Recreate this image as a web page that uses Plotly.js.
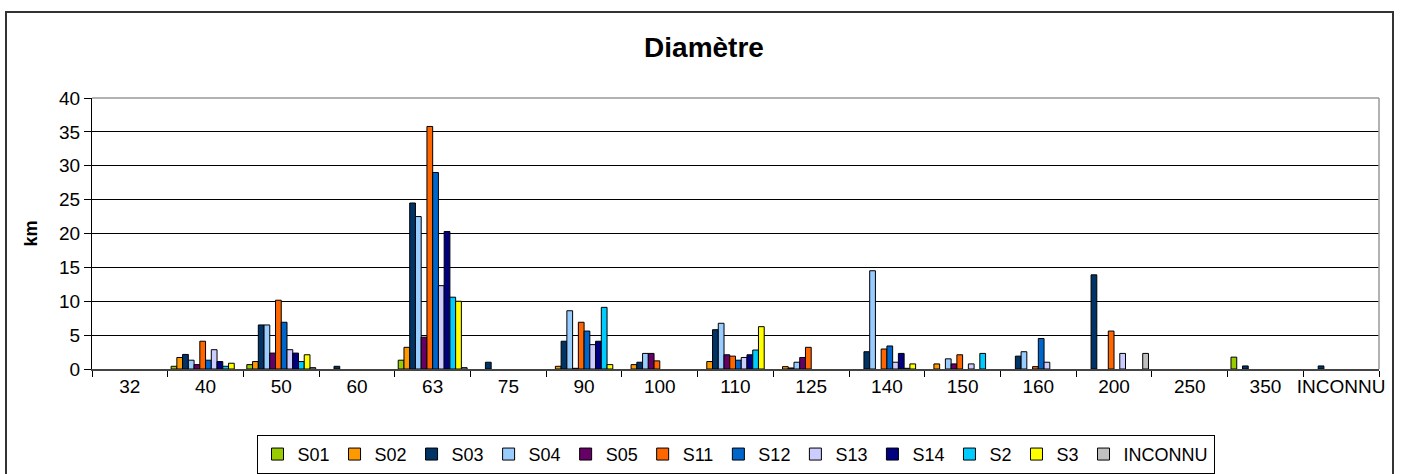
<!DOCTYPE html>
<html>
<head>
<meta charset="utf-8">
<script src="https://cdn.plot.ly/plotly-3.0.1.min.js"></script>
<style>
html,body{margin:0;padding:0;background:#fff;}
#wrap{position:relative;width:1408px;height:474px;}
#chart{width:1408px;height:474px;}
#frame{position:absolute;left:5px;top:11px;width:1389px;height:470px;border:2px solid #333;pointer-events:none;box-sizing:border-box;}
</style>
</head>
<body>
<div id="wrap"><div id="chart"></div><div id="frame"></div></div>
<script>
const categories = ['32','40','50','60','63','75','90','100','110','125','140','150','160','200','250','350','INCONNU'];
// null = no bar drawn for that category
const S01     = [null,0.4,0.65,null,1.3,null,null,null,null,null,null,null,null,null,null,1.75,null];
const S02     = [null,1.7,1.1,null,3.2,null,0.4,0.65,1.1,0.35,null,0.75,null,null,null,null,null];
const S03     = [null,2.15,6.5,0.4,24.5,1.0,4.1,1.0,5.8,0.15,2.55,null,1.9,13.9,null,0.45,0.45];
const S04     = [null,1.3,6.5,null,22.5,null,8.6,2.3,6.75,1.0,14.5,1.5,2.55,null,null,null,null];
const S05     = [null,0.65,2.35,null,4.7,null,0.1,2.3,2.1,1.7,null,0.75,null,null,null,null,null];
const S11     = [null,4.1,10.15,null,35.8,null,6.9,1.2,1.9,3.2,2.95,2.1,0.35,5.6,null,null,null];
const S12     = [null,1.3,6.9,null,29.0,null,5.6,null,1.3,null,3.4,null,4.5,null,null,null,null];
const S13     = [null,2.85,2.85,null,12.3,null,3.6,null,1.7,null,1.0,0.75,1.0,2.3,null,null,null];
const S14     = [null,1.1,2.35,null,20.3,null,4.1,null,2.1,null,2.3,null,null,null,null,null,null];
const S2      = [null,0.4,1.1,null,10.6,null,9.1,null,2.8,null,0.1,2.3,null,null,null,null,null];
const S3      = [null,0.85,2.1,null,10.0,null,0.65,null,6.25,null,0.75,null,null,null,null,null,null];
const INCONNU = [null,null,0.2,null,0.2,null,null,null,null,null,null,null,null,2.3,null,null,null];

const seriesNames = ['S01','S02','S03','S04','S05','S11','S12','S13','S14','S2','S3','INCONNU'];
const seriesData = [S01,S02,S03,S04,S05,S11,S12,S13,S14,S2,S3,INCONNU];
const colors = ['#99CC00','#FF9900','#003366','#99CCFF','#660066','#FF6600','#0066CC','#CCCCFF','#000080','#00CCFF','#FFFF00','#C0C0C0'];

const traces = seriesNames.map((n,i)=>({
  type:'bar', name:n, x:categories, y:seriesData[i],
  marker:{color:colors[i], line:{color:'#000', width:1}}
}));

const font = 'Liberation Sans, Arial, sans-serif';
const layout = {
  width:1408, height:474,
  margin:{l:91.5, r:28.5, t:97.5, b:105, pad:0, autoexpand:false},
  paper_bgcolor:'rgba(0,0,0,0)', plot_bgcolor:'#fff',
  font:{family:font, size:19, color:'#000'},
  title:{text:'<b>Diamètre</b>', x:0.5, xref:'container', y:0.9, yref:'container', yanchor:'middle', font:{family:font, size:28, color:'#000'}},
  barmode:'group', bargap:0.09, bargroupgap:0,
  showlegend:true,
  legend:{orientation:'h', x:0.5, xanchor:'center', y:-0.243, yanchor:'top',
    bordercolor:'#000', borderwidth:1, bgcolor:'#fff',
    font:{family:font, size:18, color:'#000'}, itemwidth:30, tracegroupgap:0,
    traceorder:'normal'},
  xaxis:{type:'category', tickson:'boundaries', ticks:'outside', ticklen:6, tickcolor:'#000',
    tickangle:0,
    showline:true, linecolor:'#444', linewidth:1.5, showgrid:false,
    tickfont:{family:font, size:19}, fixedrange:true},
  yaxis:{range:[0,40], dtick:5, ticks:'outside', ticklen:7, tickcolor:'#000',
    showline:true, linecolor:'#000', linewidth:1, showgrid:true, gridcolor:'#000', gridwidth:1,
    zeroline:false, tickfont:{family:font, size:19},
    title:{text:'<b>km</b>', font:{family:font, size:18}, standoff:16}, fixedrange:true},
  shapes:[
    {type:'line', xref:'paper', yref:'paper', x0:0, x1:1, y0:1, y1:1, line:{color:'#999', width:1.5}},
    {type:'line', xref:'paper', yref:'paper', x0:1, x1:1, y0:0, y1:1, line:{color:'#999', width:1.5}}
  ]
};
Plotly.newPlot('chart', traces, layout, {displayModeBar:false, staticPlot:true});
</script>
</body>
</html>
